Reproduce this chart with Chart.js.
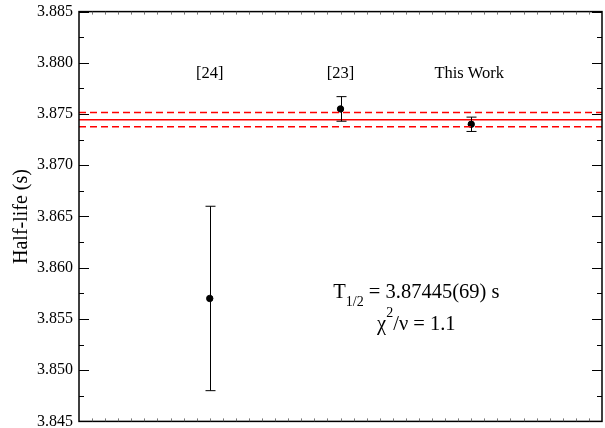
<!DOCTYPE html>
<html>
<head>
<meta charset="utf-8">
<script src="https://cdn.jsdelivr.net/npm/chart.js@4.4.0/dist/chart.umd.min.js"></script>
<style>
  html, body { margin: 0; padding: 0; background: #fff; overflow: hidden; }
  #wrap { width: 605px; height: 441px; margin-top: -4px; }
</style>
</head>
<body>
<div id="wrap"><canvas id="chart"></canvas></div>
<script>
// Half-life measurements
const categories = ['[24]', '[23]', 'This Work'];
const categoryX = [1, 2, 3];
const halfLives = [3.857, 3.8755, 3.8740];
const halfLifeErrors = [0.009, 0.0012, 0.0007];

// weighted mean and its uncertainty (red band)
const meanValue = 3.87445;
const meanError = 0.00069;

const yMin = 3.845, yMax = 3.885, yStep = 0.005;
const xMin = 0, xMax = 4;

const serif = '"Liberation Serif", "DejaVu Serif", serif';

// inward ticks, frame, error bars and text labels
const framePlugin = {
    id: 'frame',
    afterDatasetsDraw(chart) {
        const ctx = chart.ctx;
        const area = chart.chartArea;
        const x = chart.scales.x, y = chart.scales.y;
        ctx.save();

        // error bars
        ctx.strokeStyle = '#000';
        ctx.lineWidth = 1;
        halfLives.forEach((v, i) => {
            const px = Math.round(x.getPixelForValue(categoryX[i])) + 0.5;
            const top = y.getPixelForValue(v + halfLifeErrors[i]);
            const bot = y.getPixelForValue(v - halfLifeErrors[i]);
            ctx.beginPath();
            ctx.moveTo(px, top); ctx.lineTo(px, bot);
            ctx.moveTo(px - 5, top); ctx.lineTo(px + 5, top);
            ctx.moveTo(px - 5, bot); ctx.lineTo(px + 5, bot);
            ctx.stroke();
        });

        // frame
        ctx.lineWidth = 1.5;
        ctx.strokeRect(area.left, area.top, area.right - area.left, area.bottom - area.top);

        // y ticks on left and right, pointing inward
        ctx.lineWidth = 1.2;
        for (let k = 0; k <= Math.round((yMax - yMin) / (yStep / 2)); k++) {
            const v = yMin + k * yStep / 2;
            const py = Math.round(y.getPixelForValue(v)) + 0.5;
            const len = k % 2 === 0 ? 10 : 5;
            ctx.beginPath();
            ctx.moveTo(area.left, py); ctx.lineTo(area.left + len, py);
            ctx.moveTo(area.right, py); ctx.lineTo(area.right - len, py);
            ctx.stroke();
        }

        // tiny x ticks on top and bottom
        ctx.lineWidth = 0.8;
        ctx.strokeStyle = '#555';
        for (let k = 1; k < 40; k++) {
            const px = Math.round(x.getPixelForValue(xMin + k * 0.1)) + 0.5;
            ctx.beginPath();
            ctx.moveTo(px, area.bottom); ctx.lineTo(px, area.bottom - 3);
            ctx.moveTo(px, area.top); ctx.lineTo(px, area.top + 3);
            ctx.stroke();
        }

        // category labels
        ctx.fillStyle = '#000';
        ctx.font = '16.5px ' + serif;
        ctx.textAlign = 'center';
        ctx.textBaseline = 'middle';
        categories.forEach((c, i) => {
            ctx.fillText(c, x.getPixelForValue(categoryX[i]) - (i === 2 ? 2 : 0), y.getPixelForValue(3.8789));
        });

        // result text
        const cx = x.getPixelForValue(2.58);
        const big = '20.5px ' + serif, small = '14px ' + serif;
        let base = y.getPixelForValue(3.8570);
        ctx.textAlign = 'left';
        ctx.textBaseline = 'alphabetic';
        const p1 = 'T', p2 = '1/2', p3 = ' = 3.87445(69) s';
        ctx.font = big; const w1 = ctx.measureText(p1).width, w3 = ctx.measureText(p3).width;
        ctx.font = small; const w2 = ctx.measureText(p2).width;
        let sx = cx - (w1 + w2 + w3) / 2;
        ctx.font = big; ctx.fillText(p1, sx, base); sx += w1;
        ctx.font = small; ctx.fillText(p2, sx, base + 8); sx += w2;
        ctx.font = big; ctx.fillText(p3, sx, base);

        base = y.getPixelForValue(3.8539);
        const q1 = 'χ', q2 = '2', q3 = '/ν = 1.1';
        ctx.font = big; const v1 = ctx.measureText(q1).width, v3 = ctx.measureText(q3).width;
        ctx.font = small; const v2 = ctx.measureText(q2).width;
        sx = cx - (v1 + v2 + v3) / 2;
        ctx.font = big; ctx.fillText(q1, sx, base); sx += v1;
        ctx.font = small; ctx.fillText(q2, sx, base - 13); sx += v2;
        ctx.font = big; ctx.fillText(q3, sx, base);

        ctx.restore();
    }
};

const points = halfLives.map((v, i) => ({ x: categoryX[i], y: v }));
const hLine = (v) => [{ x: xMin, y: v }, { x: xMax, y: v }];

new Chart(document.getElementById('chart'), {
    type: 'scatter',
    data: {
        datasets: [{
            label: 'mean',
            type: 'line',
            data: hLine(meanValue),
            borderColor: '#ff0000',
            borderWidth: 1.5,
            pointRadius: 0
        }, {
            label: 'upper',
            type: 'line',
            data: hLine(meanValue + meanError),
            borderColor: '#ff0000',
            borderWidth: 1.5,
            borderDash: [7, 4],
            pointRadius: 0
        }, {
            label: 'lower',
            type: 'line',
            data: hLine(meanValue - meanError),
            borderColor: '#ff0000',
            borderWidth: 1.5,
            borderDash: [7, 4],
            pointRadius: 0
        }, {
            label: 'Half-life',
            data: points,
            backgroundColor: '#000',
            borderColor: '#000',
            pointRadius: 3.2,
            pointHoverRadius: 3.2
        }]
    },
    options: {
        responsive: true,
        maintainAspectRatio: false,
        animation: false,
        layout: { autoPadding: false, padding: { left: 0, right: 3, top: 8, bottom: 0 } },
        plugins: { legend: { display: false }, tooltip: { enabled: false } },
        scales: {
            x: {
                type: 'linear',
                min: xMin,
                max: xMax,
                display: false
            },
            y: {
                type: 'linear',
                min: yMin,
                max: yMax,
                afterFit(scale) { scale.width = 79; },
                ticks: {
                    stepSize: yStep,
                    padding: 6,
                    color: '#000',
                    font: { family: serif, size: 16 },
                    callback: (v) => v.toFixed(3)
                },
                grid: { display: false, drawTicks: false },
                border: { display: false },
                title: {
                    display: true,
                    text: 'Half-life (s)',
                    color: '#000',
                    font: { family: serif, size: 20 },
                    padding: { top: 10, bottom: 0 }
                }
            }
        }
    },
    plugins: [framePlugin]
});
</script>
</body>
</html>
